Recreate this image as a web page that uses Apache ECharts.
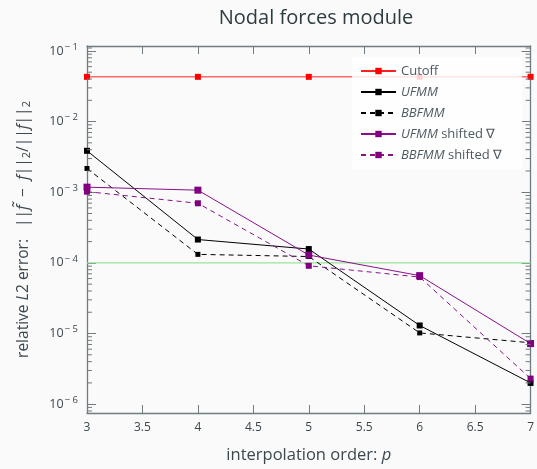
<!DOCTYPE html>
<html><head><meta charset="utf-8">
<script src="https://cdn.jsdelivr.net/npm/echarts@6/dist/echarts.min.js"></script>
<style>html,body{margin:0;padding:0;background:#fafafa}#c{width:537px;height:469px}</style>
</head><body><div id="c"></div>
<script>
// ---- data ----
const orders = [3, 4, 5, 6, 7];
const cutoff = [4.3e-2, 4.3e-2, 4.3e-2, 4.3e-2, 4.3e-2];
const ufmm = [3.86e-3, 2.14e-4, 1.57e-4, 1.30e-5, 2.0e-6];
const bbfmm = [2.17e-3, 1.32e-4, 1.23e-4, 1.02e-5, 7.4e-6];
const ufmmShifted = [1.18e-3, 1.07e-3, 1.29e-4, 6.6e-5, 7.2e-6];
const bbfmmShifted = [1.02e-3, 6.98e-4, 9.1e-5, 6.3e-5, 2.3e-6];
const referenceX = [3, 7];
const referenceLevel = [1e-4, 1e-4];
const seriesNames = ['Cutoff', 'UFMM', 'BBFMM', 'UFMM shifted ∇', 'BBFMM shifted ∇'];
const xTickValues = [3, 3.5, 4, 4.5, 5, 5.5, 6, 6.5, 7];
const yMajorExps = [-6, -5, -4, -3, -2, -1];
const yMinorTicks = [
  8e-7, 9e-7,
  2e-6, 3e-6, 4e-6, 5e-6, 6e-6, 7e-6, 8e-6, 9e-6,
  2e-5, 3e-5, 4e-5, 5e-5, 6e-5, 7e-5, 8e-5, 9e-5,
  2e-4, 3e-4, 4e-4, 5e-4, 6e-4, 7e-4, 8e-4, 9e-4,
  2e-3, 3e-3, 4e-3, 5e-3, 6e-3, 7e-3, 8e-3, 9e-3,
  2e-2, 3e-2, 4e-2, 5e-2, 6e-2, 7e-2, 8e-2, 9e-2,
  1.1e-1
];
const xMin = 3, xMax = 7;
const yMin = 7.5e-7, yMax = 0.1175;

// ---- style ----
const frame = '#6f7b81';
const txt = '#3b484e';
const FONT = '"Open Sans", Lato, sans-serif';

const pairs = arr => orders.map((x, i) => [x, arr[i]]);

const chart = echarts.init(document.getElementById('c'), null, {renderer: 'canvas'});

function yLabel(v) {
  const e = Math.round(Math.log10(v));
  if (Math.abs(Math.log10(v) - e) > 1e-6 || yMajorExps.indexOf(e) < 0) return '';
  return '10{sup|− ' + Math.abs(e) + '}';
}

const legendColor = '#4d5a60';
const legendRich = {
  i: {fontStyle: 'italic', fontSize: 13, color: legendColor, fontFamily: FONT, lineHeight: 16},
  n: {fontSize: 13, color: legendColor, fontFamily: FONT, lineHeight: 16}
};
function legendFmt(name) {
  if (name === 'Cutoff') return '{n|Cutoff}';
  const parts = name.split(' ');
  if (parts.length === 1) return '{i|' + name + '}';
  return '{i|' + parts[0] + '}{n| ' + parts.slice(1).join(' ') + '}';
}

const option = {
  backgroundColor: '#fafafa',
  animation: false,
  title: {
    text: 'Nodal forces module',
    left: 311, textAlign: 'center', top: 3,
    textStyle: {fontSize: 20, fontWeight: 'normal', color: '#2d3b41', fontFamily: FONT}
  },
  grid: {left: 87, right: 2, top: 46, bottom: 50, containLabel: false},
  legend: {
    orient: 'vertical', left: 352, top: 57,
    data: seriesNames,
    backgroundColor: 'rgba(255,255,255,0.82)',
    padding: [6, 20, 6, 8],
    itemWidth: 35, itemHeight: 8, itemGap: 5,
    formatter: legendFmt,
    textStyle: {rich: legendRich, fontFamily: FONT, lineHeight: 16, height: 16}
  },
  xAxis: [{
    type: 'value', min: xMin, max: xMax, interval: 0.5, position: 'bottom',
    name: 'interpolation order: {i|p}', nameLocation: 'middle', nameGap: 34,
    nameTextStyle: {fontSize: 16.5, color: txt, fontFamily: FONT,
      rich: {i: {fontStyle: 'italic', fontSize: 16.5, color: txt, fontFamily: FONT}}},
    axisLine: {show: true, lineStyle: {color: frame, width: 1.3}},
    axisTick: {show: true, inside: true, length: 8, lineStyle: {color: frame}},
    axisLabel: {color: txt, fontSize: 12, margin: 9, fontFamily: FONT,
      formatter: v => (xTickValues.indexOf(v) >= 0 ? String(v) : '')},
    splitLine: {show: false}
  }, {
    type: 'value', min: xMin, max: xMax, interval: 0.5, position: 'top',
    axisLine: {show: true, lineStyle: {color: frame, width: 1.3}},
    axisTick: {show: true, inside: true, length: 8, lineStyle: {color: frame}},
    axisLabel: {show: false}, splitLine: {show: false}
  }],
  yAxis: [{
    type: 'log', min: yMin, max: yMax, logBase: 10, position: 'left',
    name: '{n|relative }{i|L}{n|2 error:   ||}{i|f\u0303}{n|  −  }{i|f}{n|||}{s|2}{n|/||}{i|f}{n|||}{s|2}',
    nameLocation: 'middle', nameGap: 55,
    nameTextStyle: {fontSize: 15.5, color: txt, fontFamily: FONT,
      rich: {
        n: {fontSize: 15.5, color: txt, fontFamily: FONT},
        i: {fontSize: 15.5, color: txt, fontStyle: 'italic', fontFamily: FONT},
        s: {fontSize: 11, color: txt, fontFamily: FONT, verticalAlign: 'bottom', padding: [6, 0, 0, 0]}
      }},
    axisLine: {show: true, lineStyle: {color: frame, width: 1.3}},
    axisTick: {show: true, inside: true, length: 9, lineStyle: {color: frame}},
    axisLabel: {color: txt, fontSize: 12.5, margin: 9, fontFamily: FONT, formatter: yLabel,
      rich: {sup: {fontSize: 9.5, color: txt, fontFamily: FONT, verticalAlign: 'top', padding: [0, 0, 8, 1]}}},
    splitLine: {show: false}
  }, {
    type: 'log', min: yMin, max: yMax, logBase: 10, position: 'right',
    axisLine: {show: true, lineStyle: {color: frame, width: 1.3}},
    axisTick: {show: true, inside: true, length: 9, lineStyle: {color: frame}},
    axisLabel: {show: false}, splitLine: {show: false}
  }],
  series: [
    {
      name: 'reference', type: 'line', data: referenceX.map((x, i) => [x, referenceLevel[i]]),
      showSymbol: false, symbol: 'none', lineStyle: {color: '#98e598', width: 1.2}, z: 1, silent: true
    },
    {
      name: 'Cutoff', type: 'line', data: pairs(cutoff), symbol: 'rect', symbolSize: 6,
      color: '#ff0000', lineStyle: {color: '#ff2020', width: 1}, itemStyle: {color: '#ff0000'}, z: 3
    },
    {
      name: 'UFMM', type: 'line', data: pairs(ufmm), symbol: 'rect', symbolSize: 6,
      color: '#000000', lineStyle: {color: '#000', width: 1}, itemStyle: {color: '#000'}, z: 4
    },
    {
      name: 'BBFMM', type: 'line', data: pairs(bbfmm), symbol: 'rect', symbolSize: 5,
      color: '#000000', lineStyle: {color: '#000', width: 1, type: [5, 4]}, itemStyle: {color: '#000'}, z: 4
    },
    {
      name: 'UFMM shifted ∇', type: 'line', data: pairs(ufmmShifted), symbol: 'rect', symbolSize: 7,
      color: '#800080', lineStyle: {color: '#8a108a', width: 1}, itemStyle: {color: '#800080'}, z: 5
    },
    {
      name: 'BBFMM shifted ∇', type: 'line', data: pairs(bbfmmShifted), symbol: 'rect', symbolSize: 6,
      color: '#800080', lineStyle: {color: '#8a108a', width: 1, type: [5, 4]}, itemStyle: {color: '#800080'}, z: 5
    },
    {
      name: 'minorTicks', type: 'custom', silent: true, z: 6,
      data: yMinorTicks.map(v => [xMin, v]),
      renderItem: function (params, api) {
        const v = api.value(1);
        const l = api.coord([xMin, v]);
        const r = api.coord([xMax, v]);
        const st = {stroke: frame, lineWidth: 1};
        return {type: 'group', children: [
          {type: 'line', shape: {x1: l[0], y1: l[1], x2: l[0] + 5, y2: l[1]}, style: st},
          {type: 'line', shape: {x1: r[0], y1: r[1], x2: r[0] - 5, y2: r[1]}, style: st}
        ]};
      }
    }
  ]
};
chart.setOption(option);
</script>
</body></html>
